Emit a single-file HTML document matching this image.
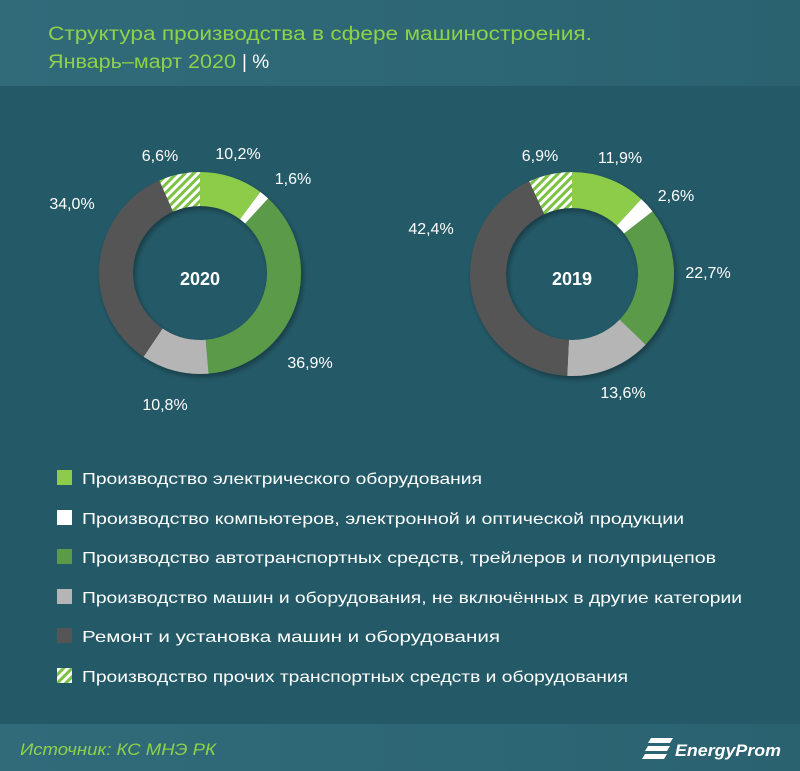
<!DOCTYPE html>
<html><head><meta charset="utf-8"><style>
html,body{margin:0;padding:0;background:#245a68;}
svg{display:block;}
text{font-family:"Liberation Sans","DejaVu Sans",sans-serif;}
</style></head><body>
<svg id="s" width="800" height="771" viewBox="0 0 800 771" xmlns="http://www.w3.org/2000/svg">
<defs>
<linearGradient id="hg" x1="0" x2="1"><stop offset="0" stop-color="#316b7a"/><stop offset="1" stop-color="#2a6270"/></linearGradient>
<pattern id="hatch" width="6" height="6" patternUnits="userSpaceOnUse" patternTransform="rotate(45)">
<rect width="6" height="6" fill="#ffffff"/><rect width="3" height="6" fill="#7cc242"/></pattern>
<filter id="sh" x="-20%" y="-20%" width="140%" height="140%"><feDropShadow dx="2" dy="3" stdDeviation="3" flood-color="#000" flood-opacity="0.35"/></filter>
</defs>
<rect width="800" height="771" fill="#245a68"/>
<rect x="0" y="0" width="800" height="86" fill="url(#hg)"/>
<rect x="0" y="724" width="800" height="47" fill="url(#hg)"/>
<text x="48" y="40" font-size="19" fill="#8ed14a" textLength="544" lengthAdjust="spacingAndGlyphs">Структура производства в сфере машиностроения.</text>
<text x="48" y="68" font-size="19" fill="#8ed14a" textLength="188" lengthAdjust="spacingAndGlyphs">Январь–март 2020</text>
<text x="242" y="68" font-size="19" fill="#ffffff">| %</text>
<g id="d1" filter="url(#sh)"></g>
<g id="d2" filter="url(#sh)"></g>
<g font-size="16" fill="#ffffff" text-anchor="middle">
<text x="160" y="161">6,6%</text><text x="238" y="159">10,2%</text><text x="293" y="184">1,6%</text>
<text x="72" y="209">34,0%</text><text x="310" y="368">36,9%</text><text x="165" y="410">10,8%</text>
<text x="540" y="161">6,9%</text><text x="620" y="163">11,9%</text><text x="676" y="201">2,6%</text>
<text x="431" y="234">42,4%</text><text x="708" y="278">22,7%</text><text x="623" y="398">13,6%</text>
<text x="200" y="285" font-size="18" font-weight="bold">2020</text>
<text x="572" y="285" font-size="18" font-weight="bold">2019</text>
</g>
<g font-size="16" fill="#ffffff">
<rect x="57" y="470" width="15" height="15" fill="#8ccc4a"/>
<text x="82" y="484" textLength="400" lengthAdjust="spacingAndGlyphs">Производство электрического оборудования</text>
<rect x="57" y="510" width="15" height="15" fill="#ffffff"/>
<text x="82" y="524" textLength="602" lengthAdjust="spacingAndGlyphs">Производство компьютеров, электронной и оптической продукции</text>
<rect x="57" y="549" width="15" height="15" fill="#5a9a48"/>
<text x="82" y="563" textLength="634" lengthAdjust="spacingAndGlyphs">Производство автотранспортных средств, трейлеров и полуприцепов</text>
<rect x="57" y="589" width="15" height="15" fill="#b5b5b5"/>
<text x="82" y="603" textLength="660" lengthAdjust="spacingAndGlyphs">Производство машин и оборудования, не включённых в другие категории</text>
<rect x="57" y="628" width="15" height="15" fill="#555555"/>
<text x="82" y="642" textLength="418" lengthAdjust="spacingAndGlyphs">Ремонт и установка машин и оборудования</text>
<rect x="57" y="668" width="15" height="15" fill="url(#hatch)"/>
<text x="82" y="682" textLength="546" lengthAdjust="spacingAndGlyphs">Производство прочих транспортных средств и оборудования</text>
</g>
<text x="20" y="755" font-size="17" font-style="italic" fill="#8ed14a" textLength="196" lengthAdjust="spacingAndGlyphs">Источник: КС МНЭ РК</text>
<g fill="#ffffff">
<path d="M651 738 h22 l-3 5 h-22z M648 746 h22 l-3 5 h-22z M645 754 h22 l-3 5 h-22z"/>
<text x="675" y="756" font-size="17" font-style="italic" font-weight="bold" textLength="106" lengthAdjust="spacingAndGlyphs">EnergyProm</text>
</g>
</svg>
<script>
var cols=["#8ccc4a","#ffffff","#5a9a48","#b5b5b5","#555555","url(#hatch)"];
function donut(id,cx,cy,R,r,vals){
 var g=document.getElementById(id),tot=vals.reduce(function(a,b){return a+b},0),a=0,h="";
 vals.forEach(function(v,i){
  var a0=a/tot*2*Math.PI,a1=(a+v)/tot*2*Math.PI;a+=v;
  var p=function(rr,t){return [cx+rr*Math.sin(t),cy-rr*Math.cos(t)]};
  var A=p(R,a0),B=p(R,a1),C=p(r,a1),D=p(r,a0),l=(a1-a0)>Math.PI?1:0;
  h+='<path fill="'+cols[i]+'" d="M'+A+' A'+R+','+R+' 0 '+l+' 1 '+B+' L'+C+' A'+r+','+r+' 0 '+l+' 0 '+D+'Z"/>';
 });
 g.innerHTML=h;
}
donut("d1",200,273,101,67,[10.2,1.6,36.9,10.8,34.0,6.6]);
donut("d2",572,274,102,66,[11.9,2.6,22.7,13.6,42.4,6.9]);
</script>
</body></html>
